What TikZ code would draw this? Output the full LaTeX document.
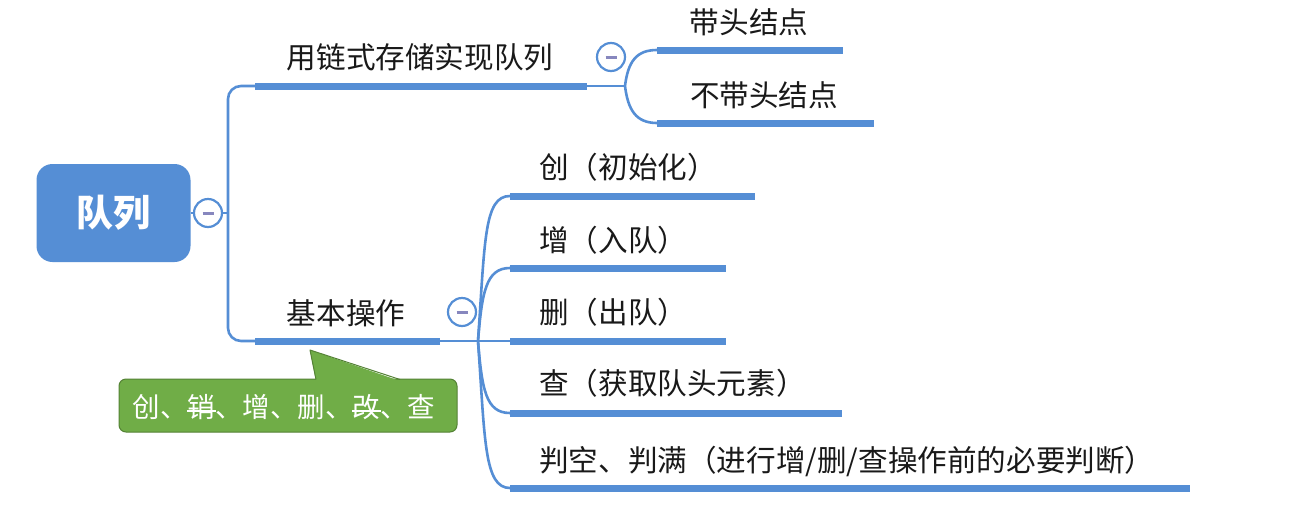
\documentclass[tikz,border=0pt]{standalone}
\usepackage{fontspec}
\newfontfamily\cjk{Noto Sans CJK SC}
\definecolor{mmblue}{RGB}{85,142,213}
\definecolor{mmgreen}{RGB}{112,173,71}
\definecolor{mmgreenD}{RGB}{84,130,53}
\definecolor{mmtext}{RGB}{25,25,25}
\definecolor{mmminus}{RGB}{135,135,190}
\newcommand\mmstrike[1]{\leavevmode\rlap{\hspace{-0.03em}\rule[0.2em]{1.06em}{2.2pt}}#1}
\tikzset{
  conn/.style={draw=mmblue, line width=2.6pt},
  bar/.style={draw=mmblue, line width=7pt},
  topic/.style={font=\cjk\fontsize{29.6}{30}\selectfont, text=mmtext, inner sep=0pt},
  toggle/.style={circle, draw=mmblue, line width=2.2pt, fill=white, minimum size=28pt, inner sep=0pt},
  rootbox/.style={draw=none, fill=mmblue, rounded corners=16pt, minimum width=154pt, minimum height=98pt,
    text=white, font=\cjk\bfseries\fontsize{37}{37}\selectfont, inner sep=0pt},
  notebox/.style={draw=mmgreenD, fill=mmgreen, line width=1pt, rounded corners=7pt,
    minimum width=338pt, minimum height=53pt, text=white, font=\cjk\fontsize{27.5}{28}\selectfont, inner sep=0pt},
}
\newcommand\mmminus{\textcolor{mmminus}{\rule{11pt}{3pt}}}
\begin{document}
\begin{tikzpicture}[x=1pt,y=-1pt]
\useasboundingbox[fill=white] (0,0) rectangle (1291,528);

% root
\node[rootbox] (root) at (113.5,213) {队列};
\node[toggle] (tg0) at (208,213) {\mmminus};
\coordinate (trunk) at (228,213);
\draw[conn] (root.east) -- (tg0.west);
\draw[conn] (tg0.east) -- (trunk);

% level-1 bars
\coordinate (a0) at (255,86);  \coordinate (a1) at (587,86);  \coordinate (fa) at (625,86);
\coordinate (b0) at (255,341); \coordinate (b1) at (440,341); \coordinate (fb) at (478,341);
\draw[conn, rounded corners=13pt] (a0) -- (228,86) -- (228,341) -- (b0);
\draw[bar] (a0) -- (a1);
\draw[conn] (a1) -- (fa);
\draw[bar] (b0) -- (b1);
\draw[conn] (b1) -- (fb);

\node[topic] (t1) at (420,57) {用链式存储实现队列};
\node[topic] (t2) at (346,313) {基本操作};

% top branch children
\node[toggle] (tg1) at (611,57) {\mmminus};
\coordinate (a10) at (657,50);  \coordinate (a11) at (843,50);
\coordinate (a20) at (657,123); \coordinate (a21) at (874,123);
\draw[conn] (fa) .. controls (628,62) and (636,50) .. (a10);
\draw[conn] (fa) .. controls (628,110) and (636,123) .. (a20);
\draw[bar] (a10) -- (a11);
\draw[bar] (a20) -- (a21);
\node[topic] (t11) at (749,22) {带头结点};
\node[topic] (t12) at (764,95) {不带头结点};

% bottom branch children
\node[toggle] (tg2) at (462,312) {\mmminus};
\coordinate (c10) at (510,196); \coordinate (c11) at (755,196);
\coordinate (c20) at (510,268); \coordinate (c21) at (726,268);
\coordinate (c30) at (510,341); \coordinate (c31) at (726,341);
\coordinate (c40) at (510,413); \coordinate (c41) at (842,413);
\coordinate (c50) at (510,488); \coordinate (c51) at (1190,488);
\draw[conn] (fb) .. controls (485,240) and (484,196) .. (c10);
\draw[conn] (fb) .. controls (482,292) and (486,268) .. (c20);
\draw[conn] (fb) -- (c30);
\draw[conn] (fb) .. controls (482,390) and (486,413) .. (c40);
\draw[conn] (fb) .. controls (485,440) and (484,488) .. (c50);
\draw[bar] (c10) -- (c11);
\draw[bar] (c20) -- (c21);
\draw[bar] (c30) -- (c31);
\draw[bar] (c40) -- (c41);
\draw[bar] (c50) -- (c51);
\node[topic, anchor=west] (t21) at (539,167) {创（初始化）};
\node[topic, anchor=west] (t22) at (539,240) {增（入队）};
\node[topic, anchor=west] (t23) at (539,312) {删（出队）};
\node[topic, anchor=west] (t24) at (539,383) {查（获取队头元素）};
\node[topic, anchor=west] (t25) at (539,461) {判空、判满（进行增/删/查操作前的必要判断）};

% callout
\node[notebox] (note) at (288,405.5) {};
\coordinate (ptip) at (310,350);
\fill[mmgreen] (316,381) -- (ptip) -- (400,381) -- cycle;
\draw[mmgreenD, line width=1pt, line join=round] (316,379.5) -- (ptip) -- (400,379.5);
\node[font=\cjk\fontsize{27.5}{28}\selectfont, text=white, inner sep=0pt] (notetext) at (284,407)
  {创、\mmstrike{销}、增、删、\mmstrike{改}、查};
\end{tikzpicture}
\end{document}
